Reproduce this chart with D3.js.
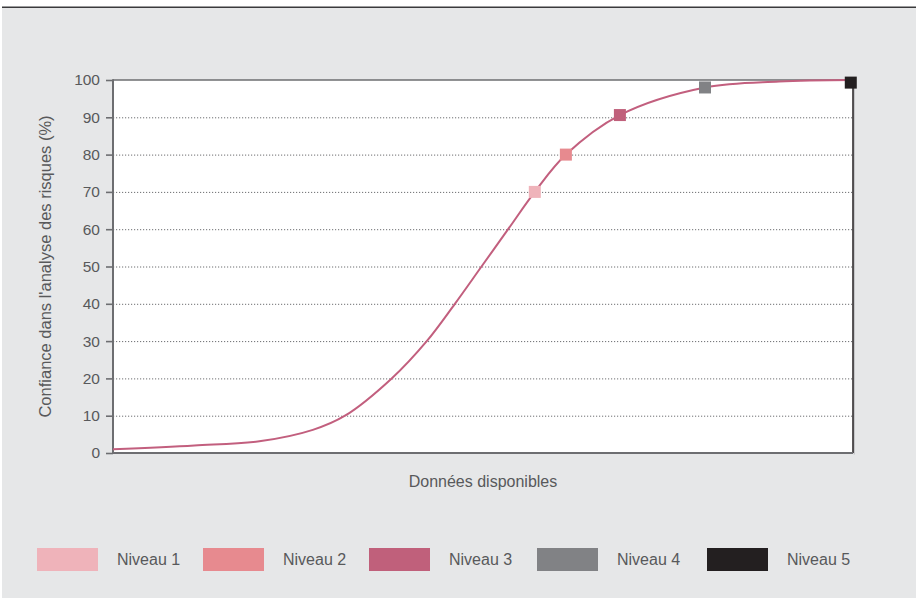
<!DOCTYPE html>
<html>
<head>
<meta charset="utf-8">
<script src="https://cdn.jsdelivr.net/npm/d3@7"></script>
<style>
  html, body { margin: 0; padding: 0; background: #ffffff; }
  svg { display: block; }
  text { font-family: "Liberation Sans", Arial, Helvetica, sans-serif; fill: #58595b; }
</style>
</head>
<body>
<svg id="chart" width="916" height="598"></svg>
<script>
// Confidence curve: available data (x, 0–100) vs confidence (%)
const curveX = [0, 11, 20, 27, 31.35, 37.66, 42.4, 46.2, 49.8, 53.4, 57.0, 61.2, 68.5, 80, 90, 100];
const curveY = [1.0, 2.0, 3.2, 6.2, 10, 20, 30, 40, 50, 60, 70, 80, 90.6, 98, 99.6, 100];

// Maturity levels placed on the curve
const levelNames = ["Niveau 1", "Niveau 2", "Niveau 3", "Niveau 4", "Niveau 5"];
const levelX = [57.0, 61.2, 68.5, 80, 99.7];
const levelY = [70, 80, 90.6, 98, 99.3];
const levelColors = ["#efb3ba", "#e78a8f", "#c0607b", "#818285", "#231f20"];

// Axis ticks
const yTicks = [0, 10, 20, 30, 40, 50, 60, 70, 80, 90, 100];
const gridTicks = [10, 20, 30, 40, 50, 60, 70, 80, 90];

const svg = d3.select("#chart");

// Panel background with dark top rule
svg.append("rect").attr("x", 2).attr("y", 8).attr("width", 914).attr("height", 590).attr("fill", "#e6e7e8");
svg.append("line").attr("x1", 2).attr("x2", 916).attr("y1", 7.2).attr("y2", 7.2)
  .attr("stroke", "#3a3a3c").attr("stroke-width", 1.6);

const plotL = 113, plotR = 853, plotT = 80, plotB = 453;
const x = d3.scaleLinear().domain([0, 100]).range([plotL, plotR]);
const y = d3.scaleLinear().domain([0, 100]).range([plotB, plotT]);

// Plot area
svg.append("rect").attr("x", plotL).attr("y", plotT).attr("width", plotR - plotL).attr("height", plotB - plotT).attr("fill", "#ffffff");

// Dotted gridlines
svg.append("g").selectAll("line").data(gridTicks).join("line")
  .attr("x1", plotL).attr("x2", plotR)
  .attr("y1", d => y(d) + 0.5).attr("y2", d => y(d) + 0.5)
  .attr("stroke", "#6d6e71").attr("stroke-width", 1).attr("stroke-dasharray", "1.2,1.8");

// Frame: top rule, right border with light shadow
svg.append("line").attr("x1", plotL).attr("x2", plotR).attr("y1", plotT).attr("y2", plotT)
  .attr("stroke", "#6d6e71").attr("stroke-width", 1.6);
svg.append("line").attr("x1", plotR + 1.2).attr("x2", plotR + 1.2).attr("y1", plotT).attr("y2", plotB + 1.5)
  .attr("stroke", "#b8b9bb").attr("stroke-width", 1);
svg.append("line").attr("x1", plotR).attr("x2", plotR).attr("y1", plotT).attr("y2", plotB)
  .attr("stroke", "#231f20").attr("stroke-width", 1.5);

// Y axis
const yAxis = d3.axisLeft(y).tickValues(yTicks).tickSize(7).tickPadding(6).tickFormat(d3.format("d"));
const gy = svg.append("g").attr("transform", `translate(${plotL},0)`).call(yAxis);
gy.select(".domain").remove();
gy.selectAll(".tick line").attr("stroke", "#6d6e71").attr("stroke-width", 1.6);
gy.selectAll(".tick text").attr("font-size", 15.5).attr("fill", "#58595b")
  .attr("font-family", "Liberation Sans, Arial, sans-serif");
svg.append("line").attr("x1", plotL).attr("x2", plotL).attr("y1", plotT - 0.8).attr("y2", plotB + 1)
  .attr("stroke", "#6d6e71").attr("stroke-width", 2);

// X axis baseline
svg.append("line").attr("x1", plotL - 1).attr("x2", plotR).attr("y1", plotB).attr("y2", plotB)
  .attr("stroke", "#6d6e71").attr("stroke-width", 2);

// Curve
const pts = curveX.map((d, i) => [d, curveY[i]]);
const line = d3.line().x(d => x(d[0])).y(d => y(d[1])).curve(d3.curveCatmullRom.alpha(0.5));
svg.append("path").datum(pts).attr("d", line)
  .attr("fill", "none").attr("stroke", "#c25f7e").attr("stroke-width", 2);

// Level markers
const ms = 12;
svg.append("g").selectAll("rect").data(levelNames).join("rect")
  .attr("x", (d, i) => x(levelX[i]) - ms / 2)
  .attr("y", (d, i) => y(levelY[i]) - ms / 2)
  .attr("width", ms).attr("height", ms)
  .attr("fill", (d, i) => levelColors[i]);

// Axis titles
svg.append("text").attr("x", (plotL + plotR) / 2).attr("y", 486.5)
  .attr("text-anchor", "middle").attr("font-size", 16).text("Données disponibles");
svg.append("text").attr("transform", `translate(51,${(plotT + plotB) / 2}) rotate(-90)`)
  .attr("text-anchor", "middle").attr("font-size", 16.5).text("Confiance dans l'analyse des risques (%)");

// Legend
const legendX = [37, 203, 369, 537, 707];
const lg = svg.append("g").selectAll("g").data(levelNames).join("g")
  .attr("transform", (d, i) => `translate(${legendX[i]},548)`);
lg.append("rect").attr("width", 61).attr("height", 23).attr("fill", (d, i) => levelColors[i]);
lg.append("text").attr("x", 80).attr("y", 16.5).attr("font-size", 16).text(d => d);
</script>
</body>
</html>
